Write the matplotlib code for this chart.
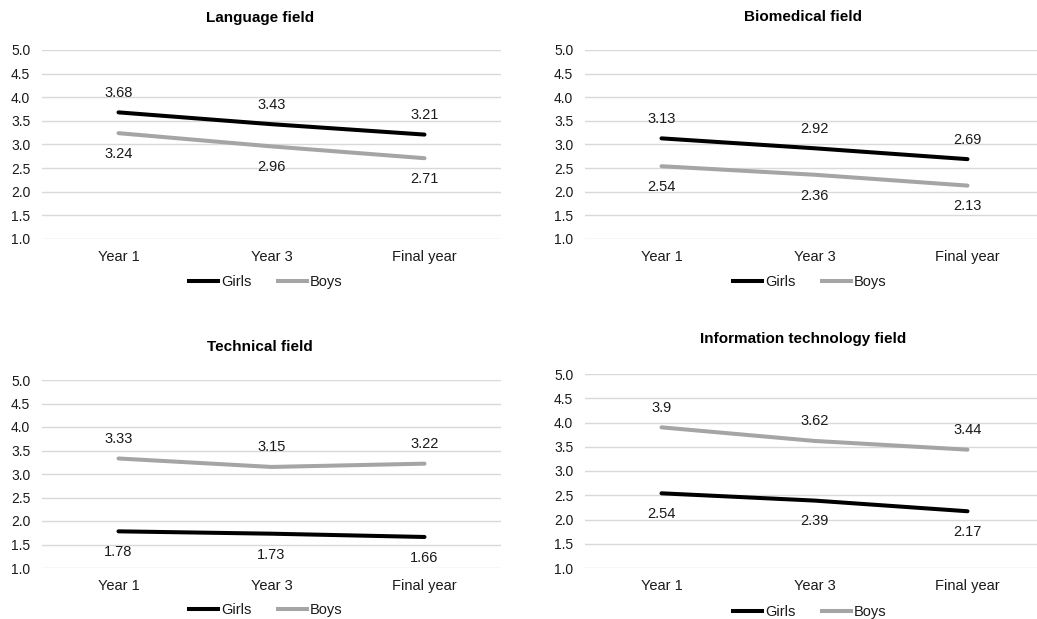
import matplotlib
matplotlib.use("Agg")
import matplotlib.pyplot as plt
from matplotlib.lines import Line2D

plt.rcParams["font.family"] = ["Liberation Sans", "DejaVu Sans"]

# Survey scores by year of study, per field
categories = ["Year 1", "Year 3", "Final year"]

language_girls = [3.68, 3.43, 3.21]
language_boys = [3.24, 2.96, 2.71]

biomedical_girls = [3.13, 2.92, 2.69]
biomedical_boys = [2.54, 2.36, 2.13]

technical_girls = [1.78, 1.73, 1.66]
technical_boys = [3.33, 3.15, 3.22]

it_girls = [2.54, 2.39, 2.17]
it_boys = [3.90, 3.62, 3.44]

titles = ["Language field", "Biomedical field", "Technical field",
          "Information technology field"]
y_ticks = [1.0, 1.5, 2.0, 2.5, 3.0, 3.5, 4.0, 4.5, 5.0]

W, H = 1037, 619
fig = plt.figure(figsize=(W / 100, H / 100), dpi=100)

GIRLS_C = "#000000"
BOYS_C = "#A5A5A5"
TEXT_C = "#1A1A1A"
GRID_C = "#D9D9D9"

# panel layout in pixels: (left, right, top, bottom, title_x, title_y, legend_x, legend_y)
panels = [
    (language_girls, language_boys, (42, 501, 50, 239, 260, 18, 266, 282)),
    (biomedical_girls, biomedical_boys, (585, 1044, 50, 239, 803, 17, 810, 282)),
    (technical_girls, technical_boys, (42, 501, 380, 568, 260, 347, 266, 610)),
    (it_girls, it_boys, (585, 1044, 374, 568, 803, 339, 810, 612)),
]

for (girls, boys, geo), title in zip(panels, titles):
    l, r, t, b, tx, ty, lx, ly = geo
    ax = fig.add_axes([l / W, 1 - b / H, (r - l) / W, (b - t) / H])
    xs = list(range(len(categories)))
    ax.plot(xs, girls, color=GIRLS_C, lw=2.9, solid_capstyle="round",
            solid_joinstyle="round", zorder=3)
    ax.plot(xs, boys, color=BOYS_C, lw=2.9, solid_capstyle="round",
            solid_joinstyle="round", zorder=3)

    # value labels: upper series above its line, lower series below
    upper_is_girls = girls[0] > boys[0]
    for series, is_girls in ((girls, True), (boys, False)):
        above = is_girls == upper_is_girls
        for x, v in zip(xs, series):
            ax.annotate(f"{v:g}", (x, v),
                        xytext=(0, 9 if above else -10),
                        textcoords="offset points",
                        ha="center", va="bottom" if above else "top",
                        fontsize=10.5, color=TEXT_C)

    ax.set_xlim(-0.5, len(categories) - 0.5)
    ax.set_ylim(1.0, 5.0)
    ax.set_yticks(y_ticks)
    ax.set_yticklabels([f"{v:.1f}" for v in y_ticks])
    ax.set_xticks(xs)
    ax.set_xticklabels(categories)
    ax.tick_params(axis="y", length=0, pad=8.5, labelsize=10, labelcolor=TEXT_C)
    ax.tick_params(axis="x", length=0, pad=8, labelsize=10.5, labelcolor=TEXT_C)
    ax.grid(axis="y", color=GRID_C, lw=1.0)
    ax.set_axisbelow(True)
    for s in ax.spines.values():
        s.set_visible(False)

    fig.text(tx / W, 1 - ty / H, title, ha="center", va="center",
             fontsize=11, fontweight="bold", color="#000000")

    handles = [Line2D([], [], color=GIRLS_C, lw=2.9),
               Line2D([], [], color=BOYS_C, lw=2.9)]
    ax.legend(handles, ["Girls", "Boys"], loc="center",
              bbox_to_anchor=(lx / W, 1 - ly / H),
              bbox_transform=fig.transFigure, ncol=2, frameon=False,
              fontsize=10.5, handlelength=2.0, handletextpad=0.2,
              columnspacing=1.8, borderpad=0.0, labelcolor=TEXT_C)

fig.savefig("out.png", dpi=100)
